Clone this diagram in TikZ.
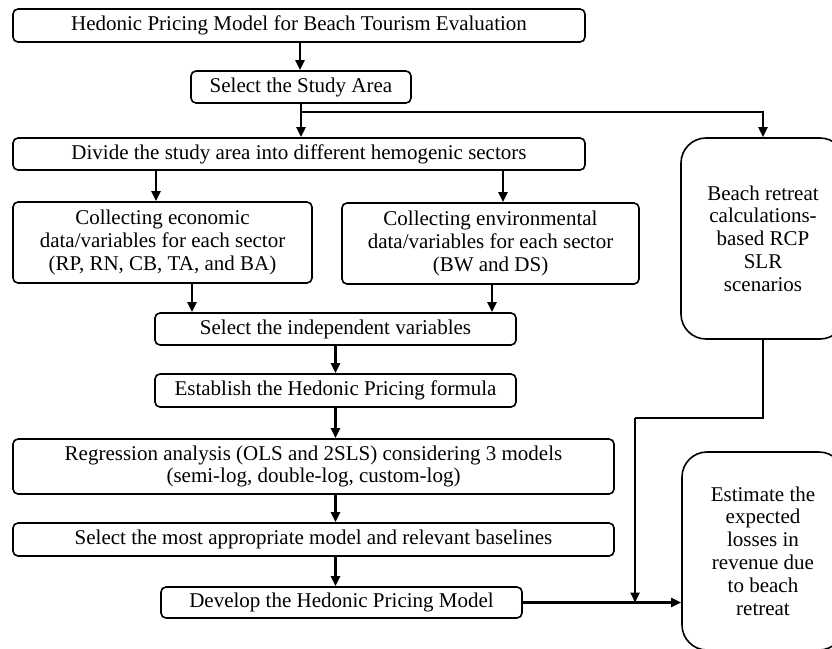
\documentclass[tikz,border=0pt]{standalone}
\usepackage{fontspec}
\setmainfont{Liberation Serif}
\usetikzlibrary{arrows.meta}
\begin{document}
\begin{tikzpicture}[x=1pt,y=-1pt,
  box/.style={draw, line width=1.6pt, rounded corners=5pt, align=center, inner sep=0pt,
    font=\fontsize{21}{22.8}\selectfont},
  bigbox/.style={box, rounded corners=25pt},
  ln/.style={line width=2.3pt},
  arr/.style={line width=2.3pt, -{Triangle[length=10pt,width=9pt]}}]
\useasboundingbox (0,0) rectangle (832,648);
\node[box, minimum width=572pt, minimum height=33pt] (b1) at (299,25.5) {Hedonic Pricing Model for Beach Tourism Evaluation};
\node[box, minimum width=220pt, minimum height=32pt] (b2) at (301,87) {Select the Study Area};
\node[box, minimum width=572pt, minimum height=32pt] (b3) at (299,154) {Divide the study area into different hemogenic sectors};
\node[box, minimum width=299pt, minimum height=81pt] (b4) at (162.5,242.5) {Collecting economic\\data/variables for each sector\\(RP, RN, CB, TA, and BA)};
\node[box, minimum width=297pt, minimum height=81pt] (b5) at (490.5,243.5) {Collecting environmental\\data/variables for each sector\\(BW and DS)};
\node[box, minimum width=361pt, minimum height=32pt] (b6) at (335.5,329) {Select the independent variables};
\node[bigbox, minimum width=164pt, minimum height=201pt] (beach) at (763,238.5) {Beach retreat\\calculations-\\based RCP\\SLR\\scenarios};
\node[box, minimum width=361pt, minimum height=33pt] (b7) at (335.5,390.5) {Establish the Hedonic Pricing formula};
\node[box, minimum width=601pt, minimum height=55pt] (b8) at (313.5,466.5) {Regression analysis (OLS and 2SLS) considering 3 models\\(semi-log, double-log, custom-log)};
\node[box, minimum width=601pt, minimum height=33pt] (b9) at (313.5,539.5) {Select the most appropriate model and relevant baselines};
\node[box, minimum width=361pt, minimum height=31pt] (b10) at (341.5,602.5) {Develop the Hedonic Pricing Model};
\node[bigbox, minimum width=162pt, minimum height=198pt] (est) at (763,551) {Estimate the\\expected\\losses in\\revenue due\\to beach\\retreat};
% arrows
\coordinate (a12) at ([xshift=1pt]b1.south);
\draw[arr] (a12) -- (a12 |- b2.north);
\coordinate (br) at (301,112);
\draw[ln] (b2.south) -- (br);
\draw[arr] (br) -- (br |- b3.north);
\draw[arr] (br) -| (beach.north);
\coordinate (a34) at ([xshift=-6.5pt]b4.north);
\draw[arr] (a34 |- b3.south) -- (a34);
\coordinate (a35) at ([xshift=12.5pt]b5.north);
\draw[arr] (a35 |- b3.south) -- (a35);
\coordinate (a46) at ([xshift=29.5pt]b4.south);
\draw[arr] (a46) -- (a46 |- b6.north);
\coordinate (a56) at ([xshift=1.5pt]b5.south);
\draw[arr] (a56) -- (a56 |- b6.north);
\draw[arr] (b6.south) -- (b7.north);
\draw[arr] (b7.south) -- (b7.south |- b8.north);
\draw[arr] (b7.south |- b8.south) -- (b7.south |- b9.north);
\draw[arr] (b7.south |- b9.south) -- (b7.south |- b10.north);
\coordinate (t) at (635,418);
\coordinate (m) at (635,602.5);
\draw[arr] (b10.east) -- (b10.east -| est.west);
\draw[ln] (beach.south) |- (t);
\draw[arr] (t) -- (m);
\end{tikzpicture}
\end{document}
